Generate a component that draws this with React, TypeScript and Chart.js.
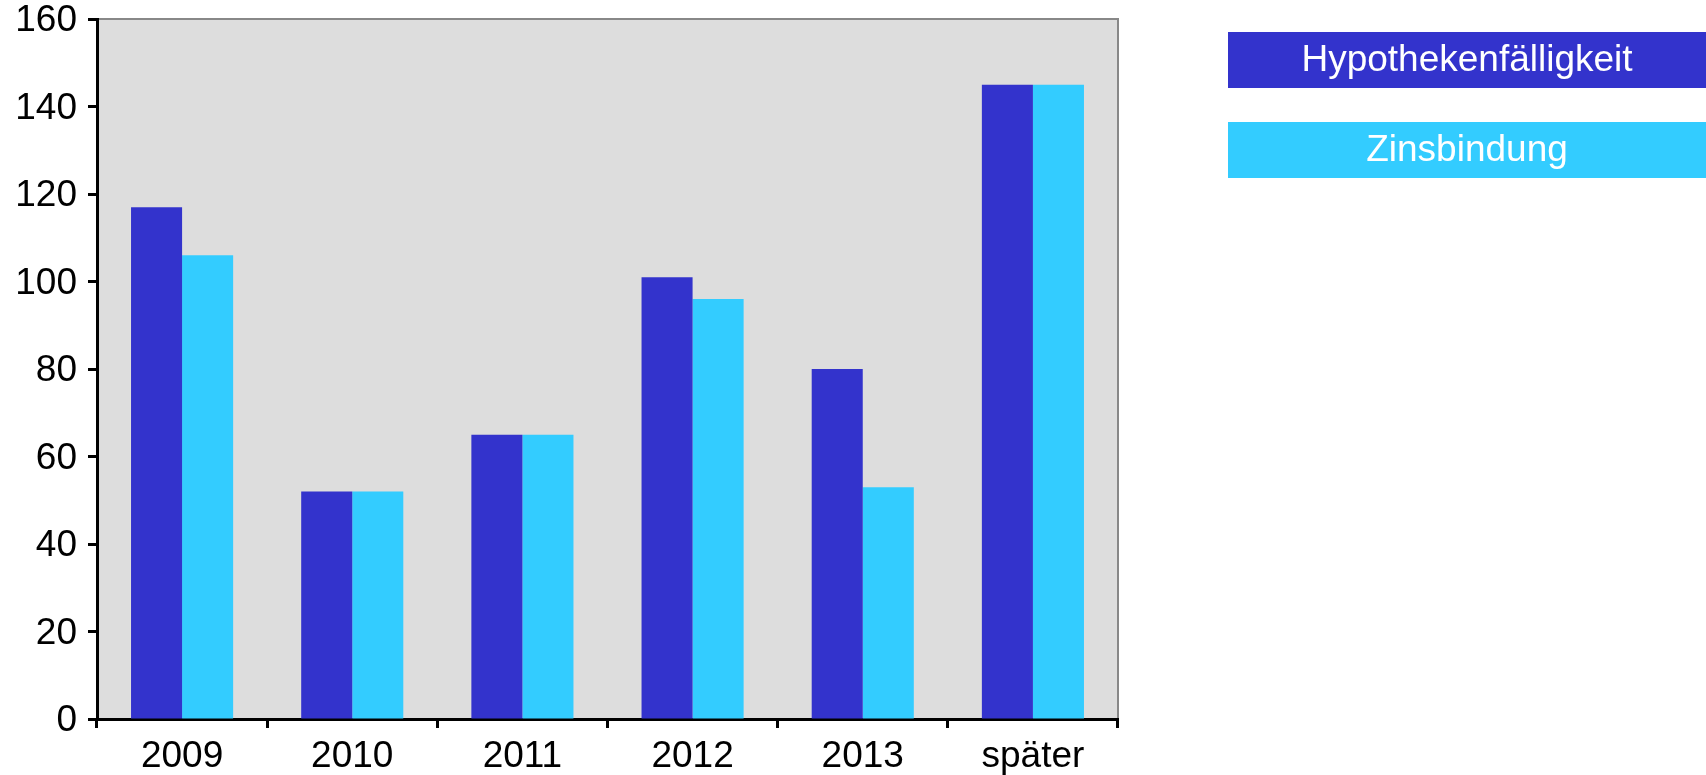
import React, { useEffect, useRef } from "react";
import { Chart, registerables } from "chart.js";

Chart.register(...registerables);

const categories = ["2009", "2010", "2011", "2012", "2013", "später"];
const hypothekenValues = [117, 52, 65, 101, 80, 145];
const zinsbindungValues = [106, 52, 65, 96, 53, 145];
const seriesLabels = ["Hypothekenfälligkeit", "Zinsbindung"];
const seriesColors = ["#3333CC", "#33CCFF"];

const FONT = "'Liberation Sans', Arial, Helvetica, sans-serif";
const FONT_SIZE = 37;

// Grey plot background plus the grey top and right frame lines
const plotFrame = {
  id: "plotFrame",
  beforeDraw(chart: any) {
    const { ctx, chartArea } = chart;
    const { left, top, right, bottom } = chartArea;
    ctx.save();
    ctx.fillStyle = "#DDDDDD";
    ctx.fillRect(left, top, right - left, bottom - top);
    ctx.strokeStyle = "#888888";
    ctx.lineWidth = 2;
    ctx.beginPath();
    ctx.moveTo(left, top);
    ctx.lineTo(right, top);
    ctx.lineTo(right, bottom);
    ctx.stroke();
    ctx.restore();
  },
};

// Legend drawn as full-width coloured bands with white centred labels
const bandLegend = {
  id: "bandLegend",
  afterDraw(chart: any) {
    const { ctx, width } = chart;
    const x0 = 1228;
    const h = 56;
    const step = 90;
    const y0 = 32;
    ctx.save();
    chart.data.datasets.forEach((ds: any, i: number) => {
      const y = y0 + i * step;
      ctx.fillStyle = ds.backgroundColor;
      ctx.fillRect(x0, y, width - x0, h);
      ctx.fillStyle = "#FFFFFF";
      ctx.font = `${FONT_SIZE}px ${FONT}`;
      ctx.textAlign = "center";
      ctx.textBaseline = "middle";
      ctx.fillText(ds.label, (x0 + width) / 2, y + h / 2 + 1);
    });
    ctx.restore();
  },
};

export default function App() {
  const canvasRef = useRef<HTMLCanvasElement | null>(null);

  useEffect(() => {
    if (!canvasRef.current) return;
    const chart = new Chart(canvasRef.current, {
      type: "bar",
      data: {
        labels: categories,
        datasets: [
          {
            label: seriesLabels[0],
            data: hypothekenValues,
            backgroundColor: seriesColors[0],
            barPercentage: 1,
            categoryPercentage: 0.6,
          },
          {
            label: seriesLabels[1],
            data: zinsbindungValues,
            backgroundColor: seriesColors[1],
            barPercentage: 1,
            categoryPercentage: 0.6,
          },
        ],
      },
      options: {
        animation: false,
        responsive: false,
        maintainAspectRatio: false,
        layout: { padding: { top: 19, right: 588, left: 0, bottom: 0 } },
        plugins: {
          legend: { display: false },
          tooltip: { enabled: false },
        },
        scales: {
          x: {
            offset: true,
            grid: {
              display: true,
              offset: true,
              drawOnChartArea: false,
              drawTicks: true,
              tickLength: 9,
              tickWidth: 3,
              tickColor: "#000000",
            },
            border: { display: true, color: "#000000", width: 3 },
            ticks: {
              color: "#000000",
              font: { family: FONT, size: FONT_SIZE },
              padding: 7,
              maxRotation: 0,
            },
            afterFit(scale: any) {
              scale.height = 56;
              scale.paddingLeft = 0;
              scale.paddingRight = 0;
            },
          },
          y: {
            min: 0,
            max: 160,
            grid: {
              display: true,
              drawOnChartArea: false,
              drawTicks: true,
              tickLength: 9,
              tickWidth: 3,
              tickColor: "#000000",
            },
            border: { display: true, color: "#000000", width: 3 },
            ticks: {
              stepSize: 20,
              color: "#000000",
              font: { family: FONT, size: FONT_SIZE },
              padding: 11,
              labelOffset: 2,
            },
            afterFit(scale: any) {
              scale.width = 97;
              scale.paddingTop = 0;
              scale.paddingBottom = 0;
            },
          },
        },
      },
      plugins: [plotFrame, bandLegend],
    });
    return () => chart.destroy();
  }, []);

  return (
    <div style={{ position: "fixed", left: 0, top: 0, width: 1706, height: 775, background: "#FFFFFF" }}>
      <canvas ref={canvasRef} width={1706} height={775} style={{ display: "block" }} />
    </div>
  );
}
